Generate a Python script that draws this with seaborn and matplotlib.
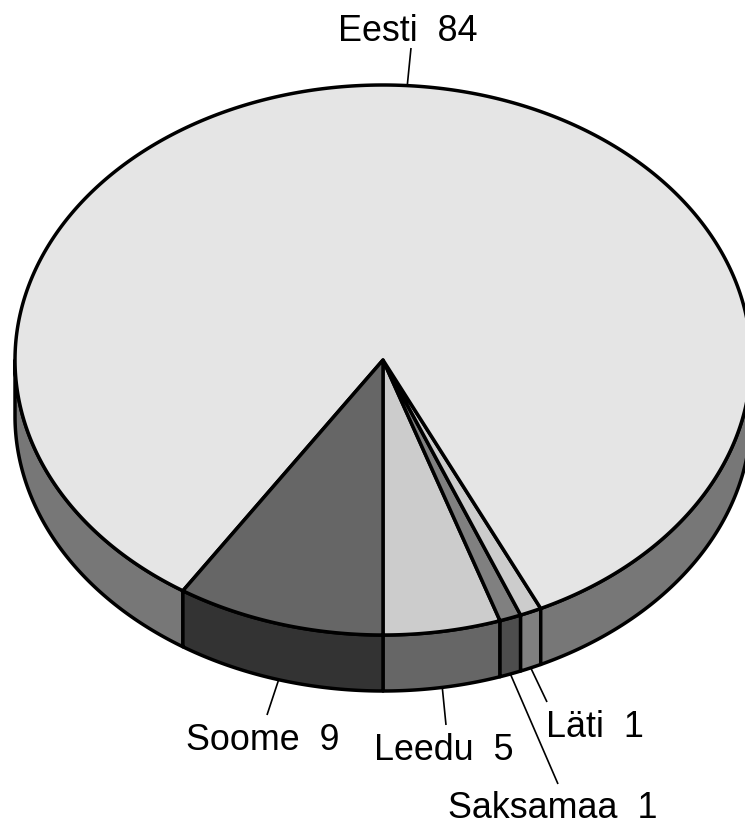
import matplotlib.pyplot as plt
import numpy as np
import seaborn as sns

# Slices in drawing order, counter-clockwise from the front of the pie
labels = ["Leedu", "Saksamaa", "Läti", "Eesti", "Soome"]
values = [5, 1, 1, 84, 9]
# Slice sizes as measured on the picture, the printed values are rounded
shares = [5.15, 0.95, 0.95, 83.8, 9.15]

top_colors = ["#cccccc", "#808080", "#cccccc", "#e5e5e5", "#666666"]
side_colors = ["#666666", "#4d4d4d", "#808080", "#777777", "#333333"]

# Where each label sits and where its leader line stops
label_x = [374, 448, 546, 338, 186]
label_y = [760, 818, 737, 41, 750]
leader_x = [446, 558, 547, 411, 267]
leader_y = [725, 784, 702, 48, 715]

# Pie geometry in pixels
cx, cy = 383, 360
rx, ry = 368, 275
depth = 56
start_angle = 270


def rim(angles):
    rad = np.radians(angles)
    return cx + rx * np.cos(rad), cy - ry * np.sin(rad)


def create_chart():
    sns.set_theme(style="white")
    plt.rcParams["font.family"] = ["Liberation Sans", "DejaVu Sans"]

    fig, ax = plt.subplots(figsize=(7.45, 8.26), dpi=100)
    ax.set_position([0, 0, 1, 1])
    ax.set_xlim(0, 745)
    ax.set_ylim(826, 0)
    ax.axis("off")

    edges = start_angle + np.cumsum([0] + shares) * 360 / sum(shares)

    for i, label in enumerate(labels):
        a0, a1 = edges[i], edges[i + 1]

        # Side wall, only the part of the rim facing the viewer
        for lo, hi in [(a0, a1), (a0 - 360, a1 - 360)]:
            lo, hi = max(lo, 180), min(hi, 360)
            if lo < hi:
                x, y = rim(np.linspace(lo, hi, 200))
                ax.fill(
                    np.r_[x, x[::-1]],
                    np.r_[y, y[::-1] + depth],
                    facecolor=side_colors[i],
                    edgecolor="black",
                    linewidth=2.5,
                    joinstyle="round",
                    zorder=2,
                )

    for i, label in enumerate(labels):
        a0, a1 = edges[i], edges[i + 1]

        # Top face
        x, y = rim(np.linspace(a0, a1, 400))
        ax.fill(
            np.r_[cx, x],
            np.r_[cy, y],
            facecolor=top_colors[i],
            edgecolor="black",
            linewidth=2.5,
            joinstyle="round",
            zorder=3,
        )

        # Leader line starts on the rim at the middle of the slice
        mid = (a0 + a1) / 2
        sx, sy = rim(mid)
        if np.sin(np.radians(mid)) < 0:
            sy += depth
        ax.plot(
            [sx, leader_x[i]],
            [sy, leader_y[i]],
            color="black",
            linewidth=1.2,
            solid_capstyle="butt",
            zorder=1,
        )

        ax.text(
            label_x[i],
            label_y[i],
            f"{label}  {values[i]}",
            fontsize=25.8,
            color="black",
            ha="left",
            va="baseline",
        )

    fig.savefig("out.png", dpi=100)


if __name__ == "__main__":
    create_chart()
